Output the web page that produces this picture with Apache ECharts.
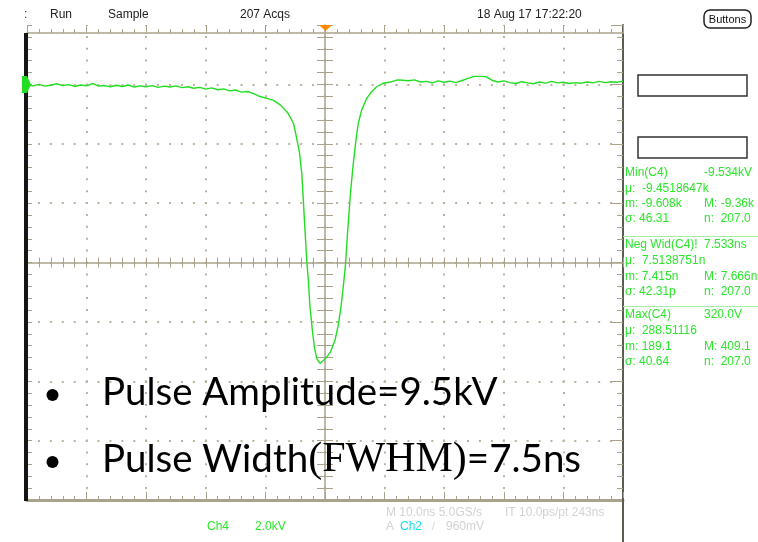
<!DOCTYPE html>
<html><head><meta charset="utf-8">
<script src="https://cdn.jsdelivr.net/npm/echarts@6/dist/echarts.min.js"></script>
<style>html,body{margin:0;padding:0;background:#fff;}#c{width:758px;height:542px;}</style>
</head><body><div id="c"></div>
<script>
// ---- Data (time in ns, voltage in kV; scope: 10 ns/div, 2.0 kV/div) ----
const preTimeNs = [-50,-49,-48,-47,-46,-45,-44,-43,-42,-41,-40,-39,-38,-37,-36,-35,-34,-33,-32,-31,-30,-29,-28,-27,-26,-25,-24,-23,-22,-21,-20,-19,-18,-17,-16,-15,-14,-13,-12];
const preKV = [-0.02,-0.05,0.00,-0.06,-0.03,0.02,-0.04,-0.01,-0.07,-0.02,
  -0.05,0.03,-0.06,-0.04,-0.08,-0.03,-0.07,-0.02,-0.09,-0.05,
  -0.08,-0.04,-0.10,-0.06,-0.09,-0.05,-0.11,-0.08,-0.13,-0.10,
  -0.16,-0.12,-0.18,-0.15,-0.22,-0.19,-0.26,-0.24,-0.31];
const pulseTimeNs = [-10.9,-8.7,-7.5,-6.2,-5.3,-4.87,-4.3,-3.9,-3.64,-3.36,-3.07,-2.8,-2.52,-2.13,-1.79,-1.4,-0.84,-0.28,0.28,0.95,1.68,2.24,2.68,3.07,3.41,3.74,4.03,4.31,4.75,5.2,5.59,6.16,7.0,7.83,8.67,9.78,11.2,12.2];
const pulseKV = [-0.41,-0.53,-0.69,-0.97,-1.31,-1.70,-2.27,-2.99,-3.89,-4.90,-5.91,-6.59,-7.49,-8.27,-8.83,-9.23,-9.40,-9.30,-9.19,-9.00,-8.61,-8.10,-7.49,-6.81,-6.14,-5.13,-4.34,-3.56,-2.66,-1.87,-1.31,-0.86,-0.47,-0.25,-0.08,0.04,0.09,0.15];
const postTimeNs = [13,14,15,16,17,18,19,20,21,22,23,24,25,26,27,28,29,30,31,32,33,34,35,36,37,38,39,40,41,42,43,44,45,46,47,48,49,50];
const postKV = [0.14,0.12,0.15,0.08,0.10,0.05,0.12,0.07,0.11,0.06,
  0.13,0.20,0.27,0.27,0.26,0.14,0.08,0.12,0.06,0.03,
  0.09,0.05,0.02,0.08,0.04,0.10,0.05,0.07,0.03,0.06,
  0.04,0.08,0.05,0.10,0.06,0.09,0.07,0.11];

const topBarLabels = [':', 'Run', 'Sample', '207 Acqs', '18 Aug 17 17:22:20'];
const measMin = [['Min(C4)', '-9.534kV'], ['μ:  -9.4518647k', ''], ['m: -9.608k', 'M: -9.36k'], ['σ: 46.31', 'n:  207.0']];
const measWid = [['Neg Wid(C4)!', '7.533ns'], ['μ:  7.5138751n', ''], ['m: 7.415n', 'M: 7.666n'], ['σ: 42.31p', 'n:  207.0']];
const measMax = [['Max(C4)', '320.0V'], ['μ:  288.51116', ''], ['m: 189.1', 'M: 409.1'], ['σ: 40.64', 'n:  207.0']];
const bottomLabels = ['Ch4', '2.0kV', 'M 10.0ns 5.0GS/s', 'IT 10.0ps/pt 243ns', 'A', 'Ch2', '/', '960mV'];
const noteLine1 = 'Pulse Amplitude=9.5kV';
const noteLine2 = ['Pulse Width', '(FWHM)', '=7.5ns'];

// ---- Build ----
const trace = [];
[[preTimeNs, preKV], [pulseTimeNs, pulseKV], [postTimeNs, postKV]].forEach(([t, v]) => {
  t.forEach((x, i) => trace.push([x, v[i]]));
});

const tan = '#aaa38b';
const dot = '#bab39d';
const green = '#2be62b';
const SF = '"Liberation Sans", Arial, sans-serif';

function tx(text, x, y, color, size, align) {
  return {type: 'text', x: x, y: y, z: 100,
    style: {text: text, fill: color, font: (size || 12) + 'px ' + SF, align: align || 'left', verticalAlign: 'middle'}};
}

const graphics = [];
// left black bar
graphics.push({type: 'rect', z: 50, shape: {x: 24, y: 33, width: 4, height: 468}, style: {fill: '#151515'}});
// right panel line extension
graphics.push({type: 'line', z: 50, shape: {x1: 623, y1: 498, x2: 623, y2: 542}, style: {stroke: '#5c5c50', lineWidth: 2}});
// ground marker
graphics.push({type: 'polygon', z: 60, shape: {points: [[22, 76], [27, 76], [31, 84.5], [27, 93], [22, 93]]}, style: {fill: '#22dd22'}});
// trigger marker
graphics.push({type: 'polygon', z: 60, shape: {points: [[319, 25], [332, 25], [325.5, 31]]}, style: {fill: '#ff8a00'}});
// top bar text
const topX = [24, 50, 108, 240, 477];
topBarLabels.forEach((s, i) => graphics.push(tx(s, topX[i], 15, '#222', 12)));
// Buttons
graphics.push({type: 'rect', z: 60, shape: {x: 704, y: 10, width: 47, height: 18, r: 6}, style: {fill: '#fff', stroke: '#222', lineWidth: 1.5}});
graphics.push(tx('Buttons', 727.5, 19.5, '#111', 11, 'center'));
// right panel boxes
graphics.push({type: 'rect', z: 60, shape: {x: 638, y: 75, width: 109, height: 21}, style: {fill: '#fff', stroke: '#333', lineWidth: 1.5}});
graphics.push({type: 'rect', z: 60, shape: {x: 638, y: 137, width: 109, height: 21}, style: {fill: '#fff', stroke: '#333', lineWidth: 1.5}});
// measurements
function meas(rows, ys) {
  rows.forEach((r, i) => {
    graphics.push(tx(r[0], 625, ys[i], green, 12));
    if (r[1]) graphics.push(tx(r[1], 704, ys[i], green, 12));
  });
}
meas(measMin, [173, 189, 204, 219]);
meas(measWid, [245, 261, 277, 292]);
meas(measMax, [315, 331, 347, 362]);
graphics.push({type: 'line', z: 60, shape: {x1: 623, y1: 236.5, x2: 758, y2: 236.5}, style: {stroke: '#a6eea6', lineWidth: 1}});
graphics.push({type: 'line', z: 60, shape: {x1: 623, y1: 306.5, x2: 758, y2: 306.5}, style: {stroke: '#a6eea6', lineWidth: 1}});
// bottom labels
graphics.push(tx(bottomLabels[0], 207, 527, green, 12));
graphics.push(tx(bottomLabels[1], 255, 527, green, 12));
graphics.push(tx(bottomLabels[2], 386, 513, '#d2d2d2', 12));
graphics.push(tx(bottomLabels[3], 505, 513, '#d2d2d2', 12));
graphics.push(tx(bottomLabels[4], 386, 527, '#d2d2d2', 12));
graphics.push(tx(bottomLabels[5], 400, 527, '#19e0f0', 12));
graphics.push(tx(bottomLabels[6], 432, 527, '#d2d2d2', 10));
graphics.push(tx(bottomLabels[7], 446, 527, '#d2d2d2', 12));
// notes
graphics.push({type: 'circle', z: 100, shape: {cx: 52.5, cy: 395, r: 6}, style: {fill: '#000'}});
graphics.push({type: 'circle', z: 100, shape: {cx: 52.5, cy: 462, r: 6}, style: {fill: '#000'}});
graphics.push({type: 'text', x: 102, y: 393, z: 100, style: {text: noteLine1, fill: '#000', font: '38.5px Lato, "Open Sans", sans-serif', align: 'left', verticalAlign: 'middle'}});
graphics.push({type: 'text', x: 102, y: 460, z: 100, style: {
  text: '{a|' + noteLine2[0] + '}{b|' + noteLine2[1] + '}{a|' + noteLine2[2] + '}',
  align: 'left', verticalAlign: 'middle',
  rich: {a: {fill: '#000', fontSize: 38.5, fontFamily: 'Lato, "Open Sans", sans-serif'},
         b: {fill: '#000', fontSize: 42, fontFamily: '"Liberation Serif", "DejaVu Serif", serif'}}}});

const noLabel = {show: false};
const xBase = {type: 'value', min: -50, max: 50, interval: 10, axisLabel: noLabel, splitLine: {show: false}};
const yBase = {type: 'value', min: -14, max: 2, interval: 2, axisLabel: noLabel, splitLine: {show: false}};
function ax(base, extra) { return Object.assign({}, base, extra); }
function line(show, color, width) { return {show: show, onZero: false, lineStyle: {color: color || tan, width: width || 1}}; }

const option = {
  animation: false,
  backgroundColor: '#fff',
  grid: {left: 27, top: 25, width: 596, height: 475, containLabel: false},
  xAxis: [
    ax(xBase, {position: 'bottom', axisLine: line(true, tan, 3),
      axisTick: {show: true, inside: true, length: 8, lineStyle: {color: tan}},
      minorTick: {show: true, splitNumber: 5, length: 4, lineStyle: {color: tan}},
      splitLine: {show: true, showMinLine: false, showMaxLine: false, lineStyle: {color: dot, width: 2, type: [2, 9.875], dashOffset: 1}}}),
    ax(xBase, {position: 'top', offset: -8, axisLine: line(true, tan, 1.5),
      axisTick: {show: true, inside: false, length: 8, lineStyle: {color: tan}},
      minorTick: {show: true, splitNumber: 5, length: 4, lineStyle: {color: tan}}}),
    ax(xBase, {position: 'bottom', offset: -237.5, axisLine: line(true, tan, 1.5),
      axisTick: {show: true, inside: true, length: 5, lineStyle: {color: tan}},
      minorTick: {show: true, splitNumber: 5, length: 5, lineStyle: {color: tan}}}),
    ax(xBase, {position: 'bottom', offset: -237.5, axisLine: line(false),
      axisTick: {show: true, inside: false, length: 5, lineStyle: {color: tan}},
      minorTick: {show: true, splitNumber: 5, length: 5, lineStyle: {color: tan}}})
  ],
  yAxis: [
    ax(yBase, {position: 'left', axisLine: line(false),
      axisTick: {show: true, inside: true, length: 5, lineStyle: {color: tan}},
      minorTick: {show: true, splitNumber: 5, length: 5, lineStyle: {color: tan}},
      splitLine: {show: true, showMinLine: false, showMaxLine: false, lineStyle: {color: dot, width: 2, type: [2, 9.92], dashOffset: 1}}}),
    ax(yBase, {position: 'right', axisLine: line(true, '#5c5c50', 2),
      axisTick: {show: true, inside: true, length: 12, lineStyle: {color: tan}},
      minorTick: {show: true, splitNumber: 5, length: 6, lineStyle: {color: tan}}}),
    ax(yBase, {position: 'left', offset: -298, axisLine: line(true, tan, 1.5),
      axisTick: {show: true, inside: true, length: 8, lineStyle: {color: tan}},
      minorTick: {show: true, splitNumber: 5, length: 8, lineStyle: {color: tan}}}),
    ax(yBase, {position: 'left', offset: -298, axisLine: line(false),
      axisTick: {show: true, inside: false, length: 8, lineStyle: {color: tan}},
      minorTick: {show: true, splitNumber: 5, length: 8, lineStyle: {color: tan}}})
  ],
  series: [{
    type: 'line', xAxisIndex: 0, yAxisIndex: 0, data: trace,
    symbol: 'none', showSymbol: false, z: 10,
    lineStyle: {color: '#22dd22', width: 1.4}
  }],
  graphic: graphics
};

const chart = echarts.init(document.getElementById('c'));
chart.setOption(option);
</script>
</body></html>
